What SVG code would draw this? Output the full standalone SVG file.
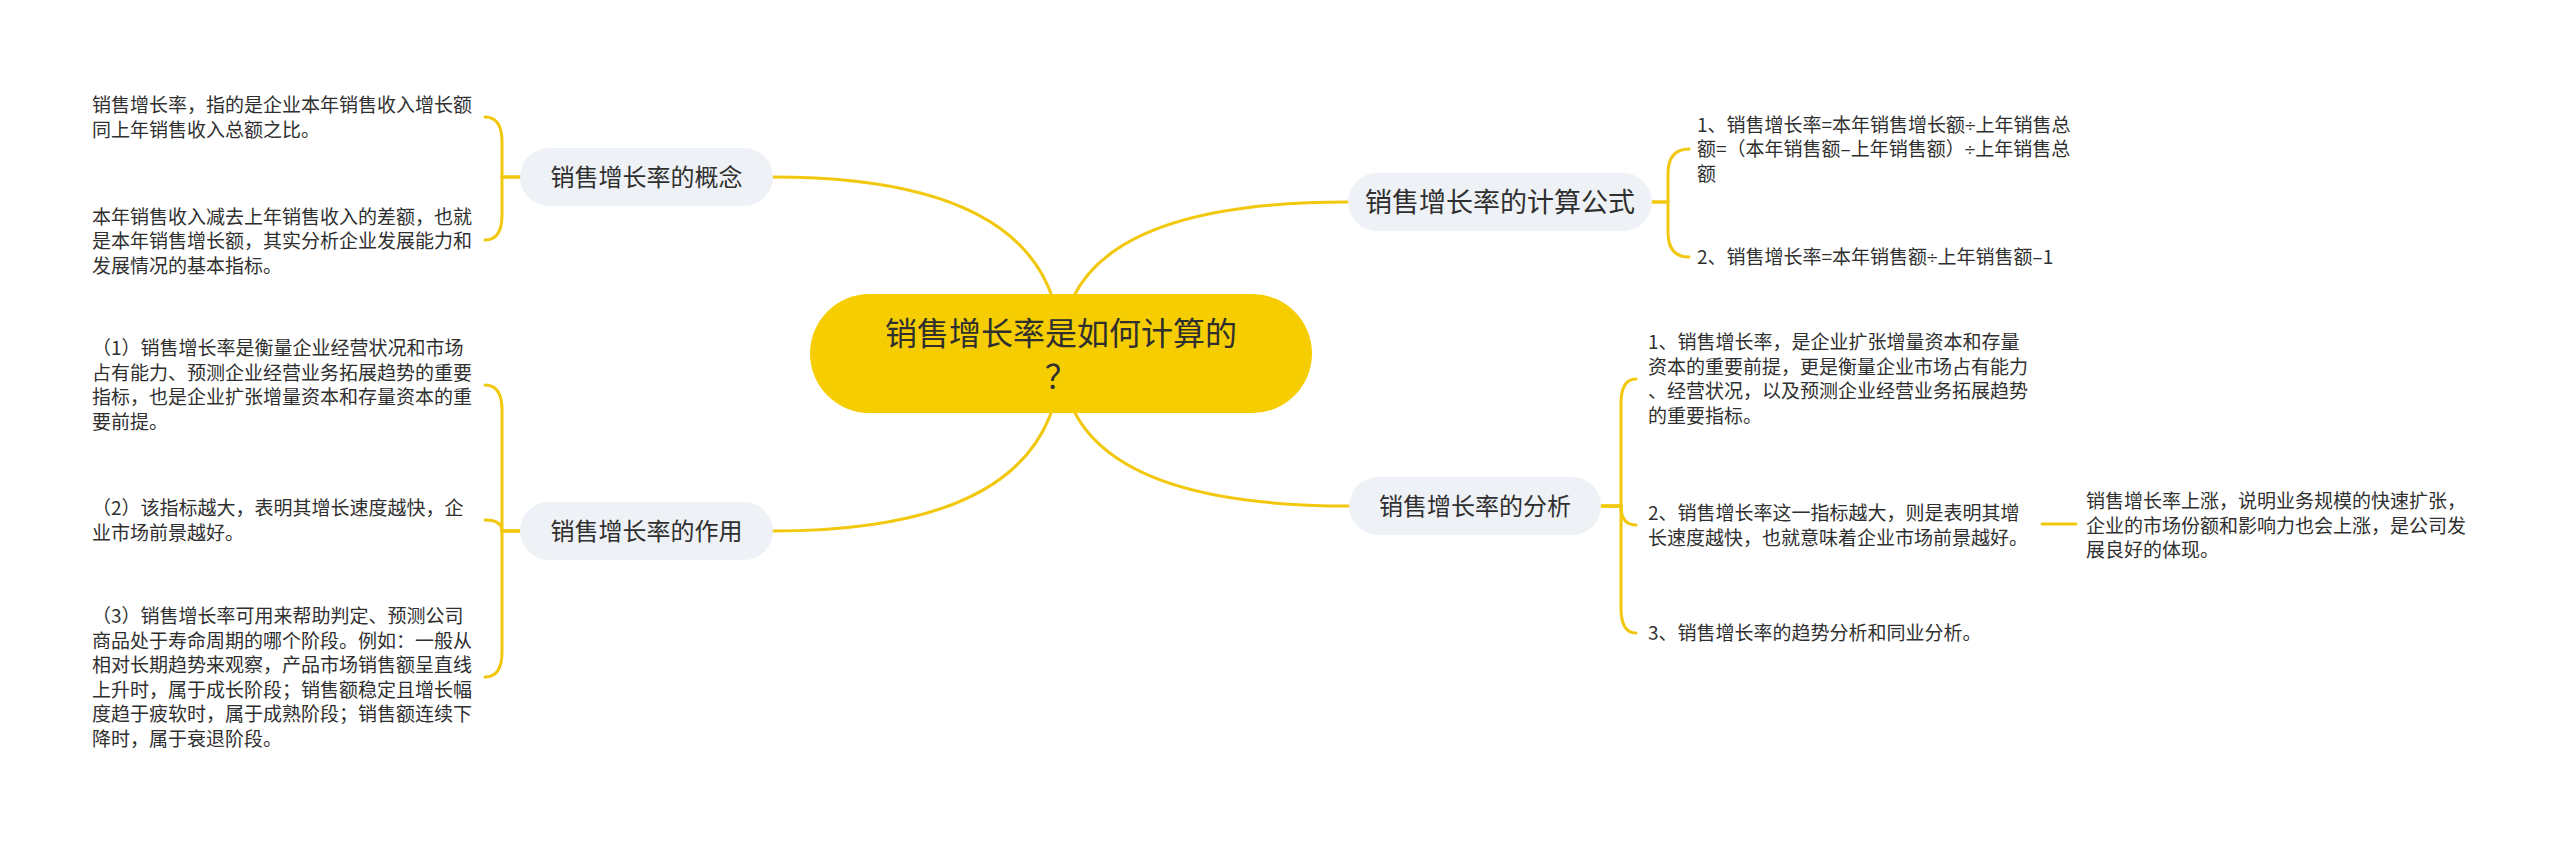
<svg xmlns="http://www.w3.org/2000/svg" width="2560" height="843" viewBox="0 0 2560 843">
<style>
text{font-family:"Noto Sans CJK SC","Noto Sans",sans-serif;fill:#2f2f2f}
.leaf{font-size:19px}
.topic{font-size:24px}
.root{font-size:32px}
.lat{font-family:"Liberation Sans",sans-serif}
.conn{fill:none;stroke:#f2c80f;stroke-width:3;stroke-linecap:round}
.nodebg{fill:#eef1f5}
</style>
<rect width="2560" height="843" fill="#ffffff"/>
<g id="connectors">
<path class="conn" d="M1061 353 Q1061 177 773 177"/>
<path class="conn" d="M1061 353 Q1061 531 773 531"/>
<path class="conn" d="M1061 353 Q1061 202 1348 202"/>
<path class="conn" d="M1061 353 Q1061 506 1349 506"/>
<path class="conn" d="M520 177 H502 V142 Q502 117 485 117"/>
<path class="conn" d="M520 177 H502 V215 Q502 240 485 240"/>
<path class="conn" d="M520 531 H502 V410 Q502 385 485 385"/>
<path class="conn" d="M520 531 H502 Q502 520 485 520"/>
<path class="conn" d="M520 531 H502 V652 Q502 677 485 677"/>
<path class="conn" d="M1652 202 H1668 V174 Q1668 149 1689 149"/>
<path class="conn" d="M1652 202 H1668 V232 Q1668 257 1689 257"/>
<path class="conn" d="M1601 506 H1621 V404 Q1621 379 1636 379"/>
<path class="conn" d="M1601 506 H1621 Q1621 525 1636 525"/>
<path class="conn" d="M1601 506 H1621 V608 Q1621 633 1636 633"/>
<path class="conn" d="M2042 524 H2076"/>
</g>
<g id="root">
<rect x="810" y="294" width="502" height="119" rx="59.5" fill="#f5cd00"/>
<text class="root" x="1061" y="345" text-anchor="middle">销售增长率是如何计算的</text>
<text class="root" x="1061" y="388" text-anchor="middle">？</text>
</g>
<g id="node-concept">
<rect class="nodebg" x="520" y="148" width="253" height="58" rx="29"/>
<text class="topic" x="646.5" y="186" text-anchor="middle">销售增长率的概念</text>
</g>
<g id="node-role">
<rect class="nodebg" x="520" y="502" width="253" height="58" rx="29"/>
<text class="topic" x="646.5" y="540" text-anchor="middle">销售增长率的作用</text>
</g>
<g id="node-formula">
<rect class="nodebg" x="1348" y="173" width="304" height="58" rx="29"/>
<text x="1500" y="212" text-anchor="middle" font-size="27">销售增长率的计算公式</text>
</g>
<g id="node-analysis">
<rect class="nodebg" x="1349" y="477" width="252" height="58" rx="29"/>
<text class="topic" x="1475" y="515" text-anchor="middle">销售增长率的分析</text>
</g>
<g id="leaf-concept-1">
<text class="leaf" x="92" y="112">销售增长率，指的是企业本年销售收入增长额</text>
<text class="leaf" x="92" y="136.5">同上年销售收入总额之比。</text>
</g>
<g id="leaf-concept-2">
<text class="leaf" x="92" y="223.5">本年销售收入减去上年销售收入的差额，也就</text>
<text class="leaf" x="92" y="248">是本年销售增长额，其实分析企业发展能力和</text>
<text class="leaf" x="92" y="272.5">发展情况的基本指标。</text>
</g>
<g id="leaf-role-1">
<text class="leaf" x="92" y="355">（1）销售增长率是衡量企业经营状况和市场</text>
<text class="leaf" x="92" y="379.5">占有能力、预测企业经营业务拓展趋势的重要</text>
<text class="leaf" x="92" y="404">指标，也是企业扩张增量资本和存量资本的重</text>
<text class="leaf" x="92" y="428.5">要前提。</text>
</g>
<g id="leaf-role-2">
<text class="leaf" x="92" y="515">（2）该指标越大，表明其增长速度越快，企</text>
<text class="leaf" x="92" y="539.5">业市场前景越好。</text>
</g>
<g id="leaf-role-3">
<text class="leaf" x="92" y="623">（3）销售增长率可用来帮助判定、预测公司</text>
<text class="leaf" x="92" y="647.5">商品处于寿命周期的哪个阶段。例如：一般从</text>
<text class="leaf" x="92" y="672">相对长期趋势来观察，产品市场销售额呈直线</text>
<text class="leaf" x="92" y="696.5">上升时，属于成长阶段；销售额稳定且增长幅</text>
<text class="leaf" x="92" y="721">度趋于疲软时，属于成熟阶段；销售额连续下</text>
<text class="leaf" x="92" y="745.5">降时，属于衰退阶段。</text>
</g>
<g id="leaf-formula-1">
<text class="leaf" x="1697" y="131.5">1、销售增长率=本年销售增长额<tspan class="lat">÷</tspan>上年销售总</text>
<text class="leaf" x="1697" y="156">额=（本年销售额–上年销售额）<tspan class="lat">÷</tspan>上年销售总</text>
<text class="leaf" x="1697" y="180.5">额</text>
</g>
<g id="leaf-formula-2">
<text class="leaf" x="1697" y="264">2、销售增长率=本年销售额<tspan class="lat">÷</tspan>上年销售额–1</text>
</g>
<g id="leaf-analysis-1">
<text class="leaf" x="1648" y="349">1、销售增长率，是企业扩张增量资本和存量</text>
<text class="leaf" x="1648" y="373.5">资本的重要前提，更是衡量企业市场占有能力</text>
<text class="leaf" x="1648" y="398">、经营状况，以及预测企业经营业务拓展趋势</text>
<text class="leaf" x="1648" y="422.5">的重要指标。</text>
</g>
<g id="leaf-analysis-2">
<text class="leaf" x="1648" y="520">2、销售增长率这一指标越大，则是表明其增</text>
<text class="leaf" x="1648" y="544.5">长速度越快，也就意味着企业市场前景越好。</text>
</g>
<g id="leaf-analysis-3">
<text class="leaf" x="1648" y="640">3、销售增长率的趋势分析和同业分析。</text>
</g>
<g id="leaf-analysis-2-1">
<text class="leaf" x="2086" y="508">销售增长率上涨，说明业务规模的快速扩张，</text>
<text class="leaf" x="2086" y="532.5">企业的市场份额和影响力也会上涨，是公司发</text>
<text class="leaf" x="2086" y="557">展良好的体现。</text>
</g>
</svg>
